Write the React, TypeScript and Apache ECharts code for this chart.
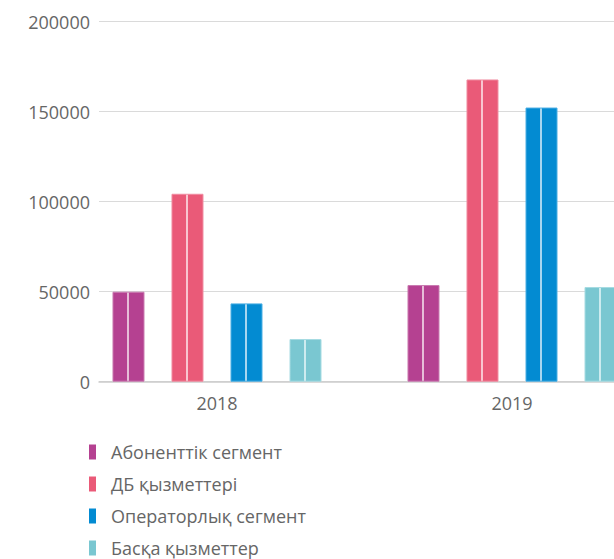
import React, { useEffect, useRef } from 'react';
import * as echarts from 'echarts';

const years = ['2018', '2019'];
const seriesNames = ['Абоненттік сегмент', 'ДБ қызметтері', 'Операторлық сегмент', 'Басқа қызметтер'];
const subscriberSegment = [50000, 53700];
const dbServices = [104400, 167900];
const operatorSegment = [43500, 152300];
const otherServices = [23700, 52600];
const yTicks = [0, 50000, 100000, 150000, 200000];

const colors = ['#b54191', '#ea5a78', '#038bd2', '#7ac7d1'];
const lineColors = ['#e6bdd8', '#f8c6d0', '#a6d6f0', '#cdebef'];
const borderColors = ['#c97ab0', '#f08ca0', '#4aaee3', '#a6dbe2'];

function barStyle(i: number) {
  return {
    color: new echarts.graphic.LinearGradient(0, 0, 1, 0, [
      { offset: 0, color: colors[i] },
      { offset: 0.45, color: colors[i] },
      { offset: 0.45, color: lineColors[i] },
      { offset: 0.51, color: lineColors[i] },
      { offset: 0.51, color: colors[i] },
      { offset: 1, color: colors[i] },
    ]),
    borderColor: borderColors[i],
    borderWidth: 1,
  };
}

export default function App() {
  const ref = useRef<HTMLDivElement>(null);
  useEffect(() => {
    if (!ref.current) return;
    const chart = echarts.init(ref.current, undefined, { renderer: 'svg' });
    const allValues = [subscriberSegment, dbServices, operatorSegment, otherServices];
    chart.setOption({
      animation: false,
      textStyle: { fontFamily: '"Open Sans", sans-serif' },
      grid: [
        { left: 69.5, top: 21.7, width: 590, height: 360 },
        { left: 99, top: 21.7, right: 0, height: 360 },
      ],
      xAxis: [
        {
          type: 'category',
          gridIndex: 0,
          data: years,
          axisLine: { show: false },
          axisTick: { show: false },
          axisLabel: { color: '#666', fontSize: 18, margin: 12, fontFamily: '"Open Sans", sans-serif' },
        },
        {
          type: 'value',
          gridIndex: 1,
          min: 0,
          max: 1,
          axisLine: { show: true, lineStyle: { color: '#ccc', width: 1.5 } },
          axisTick: { show: false },
          axisLabel: { show: false },
          splitLine: { show: false },
        },
      ],
      yAxis: [
        {
          type: 'value',
          gridIndex: 0,
          min: yTicks[0],
          max: yTicks[yTicks.length - 1],
          show: false,
          splitLine: { show: false },
        },
        {
          type: 'value',
          gridIndex: 1,
          min: yTicks[0],
          max: yTicks[yTicks.length - 1],
          interval: yTicks[1] - yTicks[0],
          axisLine: { show: false },
          axisTick: { show: false },
          axisLabel: {
            color: '#666',
            fontSize: 18,
            margin: 9,
            fontFamily: '"Open Sans", sans-serif',
            formatter: (v: number) => String(v),
          },
          splitLine: { lineStyle: { color: '#dadada', width: 1 } },
        },
      ],
      legend: {
        orient: 'vertical',
        left: 84,
        top: 438,
        icon: 'rect',
        itemWidth: 7,
        itemHeight: 15,
        itemGap: 14,
        textStyle: {
          color: '#666',
          fontSize: 18,
          lineHeight: 18,
          padding: [0, 0, 0, 10],
          fontFamily: '"Open Sans", sans-serif',
        },
        data: seriesNames.map((name, i) => ({
          name,
          itemStyle: { color: colors[i], borderWidth: 0 },
        })),
      },
      series: seriesNames.map((name, i) => ({
        name,
        type: 'bar',
        xAxisIndex: 0,
        yAxisIndex: 0,
        barWidth: 32,
        barGap: '84.4%',
        itemStyle: barStyle(i),
        data: allValues[i],
      })),
    });
    return () => chart.dispose();
  }, []);
  return (
    <div style={{ position: 'fixed', left: 0, top: 0, width: 614, height: 559, overflow: 'hidden', background: '#fff' }}>
      <div ref={ref} style={{ width: 700, height: 650 }} />
    </div>
  );
}
